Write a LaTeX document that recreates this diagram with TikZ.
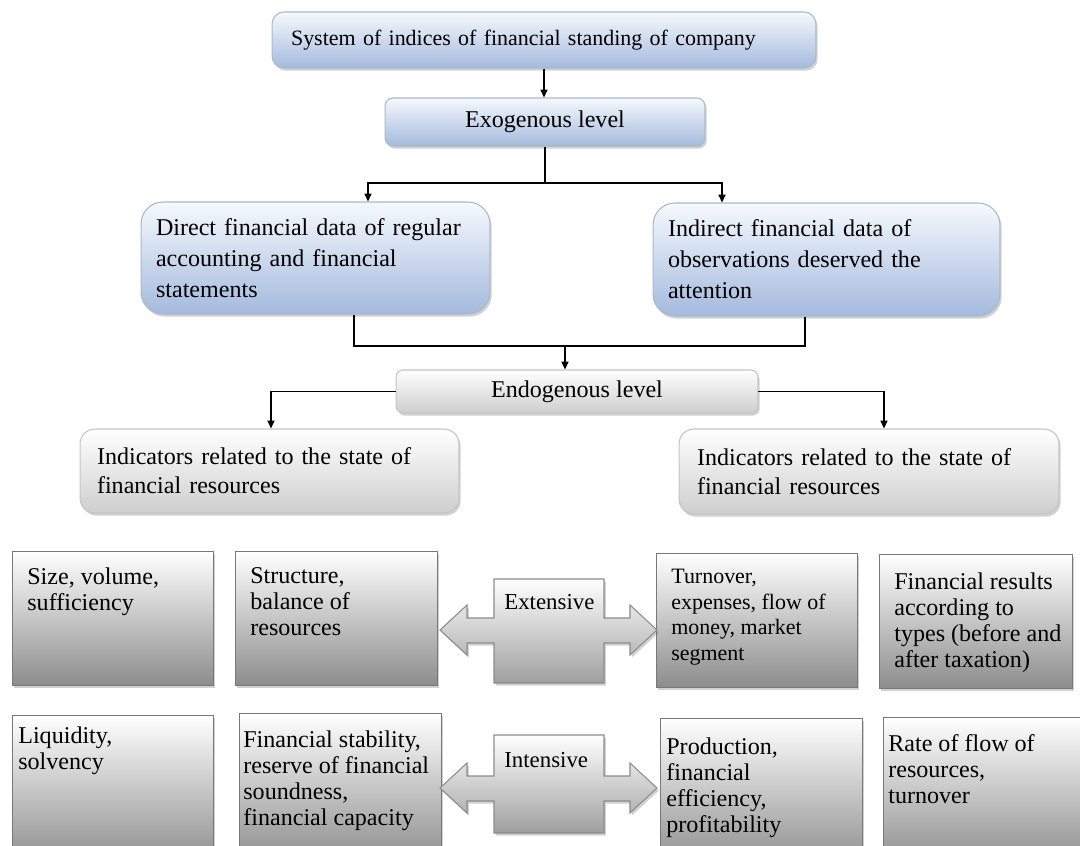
\documentclass[tikz,border=0pt]{standalone}
\usepackage{fontspec}
\setmainfont{Liberation Serif}
\usetikzlibrary{arrows.meta,shadows}

\definecolor{blueTop}{RGB}{246,249,253}
\definecolor{blueBot}{RGB}{164,186,221}
\definecolor{blueLine}{RGB}{168,184,208}
\definecolor{grayBot}{RGB}{206,206,206}
\definecolor{grayLine}{RGB}{196,196,196}
\definecolor{cellBot}{RGB}{140,140,140}
\definecolor{cellLine}{RGB}{120,120,120}

\tikzset{
    shadowed/.style={drop shadow={shadow xshift=1pt, shadow yshift=-1.5pt, opacity=.3, fill=black!60}},
    bluebox/.style={shadowed, draw=blueLine, line width=.6pt, top color=blueTop, bottom color=blueBot, inner ysep=0pt, align=left},
    graybox/.style={shadowed, draw=grayLine, line width=.6pt, top color=white, bottom color=grayBot, inner ysep=0pt, align=left},
    cell/.style={shadowed, draw=cellLine, line width=.6pt, top color=white, bottom color=cellBot, anchor=north west, inner sep=0pt},
    celltext/.style={anchor=north west, inner sep=0pt, align=left, font=\fontsize{13.7}{14.8}\selectfont},
    twoway/.style={shadowed, draw=gray!90, line width=.6pt, top color=white, bottom color=gray!75},
    arr/.style={line width=.8pt, -{Triangle[length=4.5pt,width=4pt]}},
    link/.style={line width=.8pt}
}

\begin{document}
\begin{tikzpicture}[x=0.02cm, y=-0.02cm]
    \useasboundingbox (0,0) rectangle (1080,846);
    \clip (0,0) rectangle (1080,846);
    % Exogenous level
    \node[bluebox, rounded corners=.24cm, minimum width=10.88cm, minimum height=1.12cm, text width=10.12cm, inner xsep=.38cm, font=\fontsize{12.5}{15}\selectfont] (top) at (544,40) {System of indices of financial standing of company};
    \node[bluebox, rounded corners=.16cm, minimum width=6.4cm, minimum height=.96cm, align=center, font=\fontsize{13.7}{16}\selectfont] (exo) at (545,122) {Exogenous level};
    \node[bluebox, rounded corners=.44cm, minimum width=6.98cm, minimum height=2.24cm, text width=6.38cm, inner xsep=.3cm, font=\fontsize{13.7}{17.6}\selectfont] (direct) at (315.5,258) {Direct financial data of regular\\accounting and financial\\statements};
    \node[bluebox, rounded corners=.44cm, minimum width=6.94cm, minimum height=2.26cm, text width=6.34cm, inner xsep=.3cm, font=\fontsize{13.7}{17.6}\selectfont] (indirect) at (826.5,259.5) {Indirect financial data of\\observations deserved the\\attention};
    \draw[arr] (top) -- (top |- exo.north);
    \draw[link] (exo) -- (exo |- 0,183) coordinate (split);
    \draw[arr] (split) -| (368,0 |- direct.north);
    \draw[arr] (split) -| (722,0 |- indirect.north);
    % Endogenous level
    \node[graybox, rounded corners=.14cm, minimum width=7.24cm, minimum height=.86cm, align=center, font=\fontsize{13.7}{16}\selectfont] (endo) at (577,391.5) {Endogenous level};
    \node[graybox, rounded corners=.3cm, minimum width=7.58cm, minimum height=1.68cm, text width=6.9cm, inner xsep=.34cm, font=\fontsize{13.7}{16.5}\selectfont] (indL) at (269.5,471) {Indicators related to the state of\\financial resources};
    \node[graybox, rounded corners=.3cm, minimum width=7.6cm, minimum height=1.7cm, text width=6.88cm, inner xsep=.36cm, font=\fontsize{13.7}{16.5}\selectfont] (indR) at (869,471.5) {Indicators related to the state of\\financial resources};
    \coordinate (join) at (565,346);
    \draw[link] (354,0 |- direct.south) |- (join) -| (805,0 |- indirect.south);
    \draw[arr] (join) -- (join |- endo.north);
    \draw[arr] (endo) -| (271,0 |- indL.north);
    \draw[arr] (endo) -| (884,0 |- indR.north);
    % Groups of indicators
    \foreach \n/\x/\y/\w/\h in {A/12/551/201/134, B/235/551/202/134, C/656/553/201/134, D/879/554/193/134,
                                E/12/715/201/150, F/239/713/202/150, G/660/718/202/150, H/883/717/210/150}
        \node[cell, minimum width=\w*0.02cm, minimum height=\h*0.02cm] (c\n) at (\x,\y) {};
    \foreach \n/\x/\y/\t in {A/27/567/{Size, volume,\\sufficiency}, B/250/567/{Structure,\\balance of\\resources},
                             D/894/572/{Financial results\\according to\\types (before and\\after taxation)},
                             E/18/726/{Liquidity,\\solvency}, F/243/730/{Financial stability,\\reserve of financial\\soundness,\\financial capacity},
                             G/666/737/{Production,\\financial\\efficiency,\\profitability}, H/888/734/{Rate of flow of\\resources,\\turnover}}
        \node[celltext] (t\n) at (\x,\y) {\t};
    \node[celltext, font=\fontsize{12.5}{14.5}\selectfont] (tC) at (671,569) {Turnover,\\expenses, flow of\\money, market\\segment};
    % Two-way arrows
    \foreach \m/\top/\bot/\txt/\ty in {630/579/683/Extensive/594, 788/735/833/Intensive/752} {
        \path[twoway] (440,\m) -- (467,\m-25) -- (467,\m-12) -- (494,\m-12) -- (494,\top) -- (604,\top)
            -- (604,\m-12) -- (630,\m-12) -- (630,\m-25) -- (657,\m) -- (630,\m+25) -- (630,\m+13)
            -- (604,\m+13) -- (604,\bot) -- (494,\bot) -- (494,\m+13) -- (467,\m+13) -- (467,\m+25) -- cycle;
        \node[celltext, font=\fontsize{13}{15}\selectfont] (\txt) at (504,\ty) {\txt};
    }
\end{tikzpicture}
\end{document}
